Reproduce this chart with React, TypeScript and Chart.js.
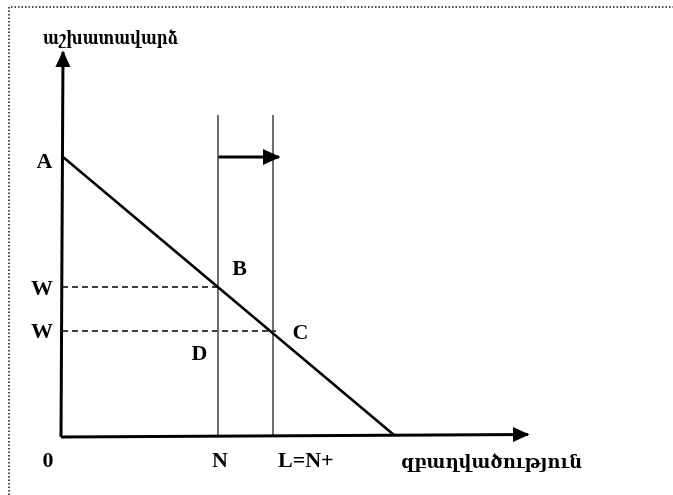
import { useEffect, useRef } from "react";
import { Chart, registerables } from "chart.js";

Chart.register(...registerables);

// ---- data (economic units; origin = 0 employment, 0 wage) ----
const X_RANGE = [-6.1, 61.2];
const Y_RANGE = [-5.8, 43.7];

const yAxisLine = [{ x: 0, y: 0 }, { x: 0.2, y: 38.5 }];
const xAxisLine = [{ x: 0, y: 0 }, { x: 46.7, y: 0.25 }];
const demandCurve = [{ x: 0.2, y: 28.0 }, { x: 33.3, y: 0.2 }];
const supplyN = [{ x: 15.7, y: 0 }, { x: 15.7, y: 32.2 }];
const supplyL = [{ x: 21.2, y: 0 }, { x: 21.2, y: 32.2 }];
const wageHigh = [{ x: 0.1, y: 15.0 }, { x: 15.7, y: 15.0 }];
const wageLow = [{ x: 0.1, y: 10.6 }, { x: 21.5, y: 10.6 }];
const shiftArrow = [{ x: 15.7, y: 28.0 }, { x: 21.8, y: 28.0 }];

const pointLabels = ["A", "W", "W", "B", "C", "D"];
const pointLabelX = [-1.65, -1.9, -1.9, 17.85, 23.95, 13.85];
const pointLabelY = [26.9, 14.2, 9.9, 16.2, 9.8, 7.7];

const tickLabels = ["0", "N", "L=N+"];
const tickLabelX = [-1.3, 15.9, 21.7];
const tickLabelAlign = ["center", "center", "left"];
const tickLabelY = -3.0;

const yTitle = "աշխատավարձ";
const xTitle = "զբաղվածություն";
const yTitlePos = { x: -1.8, y: 39.3 };
const xTitlePos = { x: 34.0, y: -3.1 };
const yTitleWidth = 135;
const xTitleWidth = 181;

const LETTER_FONT = "bold 22px 'Liberation Serif', 'Times New Roman', serif";
const TITLE_FONT = "bold 18px 'DejaVu Serif', serif";

const decorPlugin = {
  id: "diagramDecor",
  beforeDraw(chart: any) {
    const ctx = chart.ctx;
    ctx.save();
    ctx.fillStyle = "#ffffff";
    ctx.fillRect(0, 0, chart.width, chart.height);
    // dotted frame
    ctx.strokeStyle = "#111";
    ctx.lineWidth = 1.5;
    ctx.setLineDash([1.5, 2]);
    ctx.beginPath();
    ctx.moveTo(9, chart.height);
    ctx.lineTo(9, 7);
    ctx.lineTo(chart.width, 7);
    ctx.stroke();
    ctx.restore();
  },
  afterDatasetsDraw(chart: any) {
    const ctx = chart.ctx;
    const xs = chart.scales.x;
    const ys = chart.scales.y;
    const heads = [
      { ds: 0, len: 15, half: 7.5 },
      { ds: 1, len: 15, half: 7.5 },
      { ds: 7, len: 16, half: 8 },
    ];
    ctx.save();
    ctx.fillStyle = "#000";
    heads.forEach((h) => {
      const d = chart.data.datasets[h.ds].data;
      const a = d[d.length - 2];
      const b = d[d.length - 1];
      const x1 = xs.getPixelForValue(a.x), y1 = ys.getPixelForValue(a.y);
      const x2 = xs.getPixelForValue(b.x), y2 = ys.getPixelForValue(b.y);
      const ang = Math.atan2(y2 - y1, x2 - x1);
      const bx = x2 - h.len * Math.cos(ang);
      const by = y2 - h.len * Math.sin(ang);
      const px = -Math.sin(ang), py = Math.cos(ang);
      ctx.beginPath();
      ctx.moveTo(x2 + 1.5 * Math.cos(ang), y2 + 1.5 * Math.sin(ang));
      ctx.lineTo(bx + px * h.half, by + py * h.half);
      ctx.lineTo(bx - px * h.half, by - py * h.half);
      ctx.closePath();
      ctx.fill();
    });

    ctx.textBaseline = "alphabetic";
    ctx.font = LETTER_FONT;
    ctx.textAlign = "center";
    pointLabels.forEach((t, i) => {
      ctx.fillText(t, xs.getPixelForValue(pointLabelX[i]), ys.getPixelForValue(pointLabelY[i]));
    });
    tickLabels.forEach((t, i) => {
      ctx.textAlign = tickLabelAlign[i];
      ctx.fillText(t, xs.getPixelForValue(tickLabelX[i]), ys.getPixelForValue(tickLabelY));
    });

    ctx.font = TITLE_FONT;
    ctx.textAlign = "left";
    const drawFitted = (t: string, px: number, py: number, w: number) => {
      const m = ctx.measureText(t).width;
      ctx.save();
      ctx.translate(px, py);
      ctx.scale(w / m, 1);
      ctx.fillText(t, 0, 0);
      ctx.restore();
    };
    drawFitted(yTitle, xs.getPixelForValue(yTitlePos.x), ys.getPixelForValue(yTitlePos.y), yTitleWidth);
    drawFitted(xTitle, xs.getPixelForValue(xTitlePos.x), ys.getPixelForValue(xTitlePos.y), xTitleWidth);
    ctx.restore();
  },
};

function line(data: any[], color: string, width: number, dash: number[] = []) {
  return {
    data,
    showLine: true,
    borderColor: color,
    backgroundColor: color,
    borderWidth: width,
    borderDash: dash,
    pointRadius: 0,
    pointHoverRadius: 0,
    fill: false,
    tension: 0,
    clip: false as any,
  };
}

export default function App() {
  const ref = useRef<HTMLCanvasElement | null>(null);
  useEffect(() => {
    if (!ref.current) return;
    const chart = new Chart(ref.current, {
      type: "scatter",
      data: {
        datasets: [
          line(yAxisLine, "#000", 3),
          line(xAxisLine, "#000", 3),
          line(demandCurve, "#000", 2.6),
          line(supplyN, "#4a4a4a", 1.6),
          line(supplyL, "#4a4a4a", 1.6),
          line(wageHigh, "#000", 1.6, [6, 4]),
          line(wageLow, "#000", 1.6, [6, 4]),
          line(shiftArrow, "#000", 3),
        ] as any,
      },
      options: {
        animation: false,
        responsive: false,
        devicePixelRatio: 1,
        events: [],
        layout: { padding: 0 },
        plugins: { legend: { display: false }, tooltip: { enabled: false } },
        scales: {
          x: { type: "linear", min: X_RANGE[0], max: X_RANGE[1], display: false },
          y: { type: "linear", min: Y_RANGE[0], max: Y_RANGE[1], display: false },
        },
      },
      plugins: [decorPlugin],
    });
    return () => chart.destroy();
  }, []);
  return (
    <div style={{ position: "fixed", left: 0, top: 0, width: 673, height: 495, background: "#fff" }}>
      <canvas ref={ref} width={673} height={495} style={{ display: "block" }} />
    </div>
  );
}
